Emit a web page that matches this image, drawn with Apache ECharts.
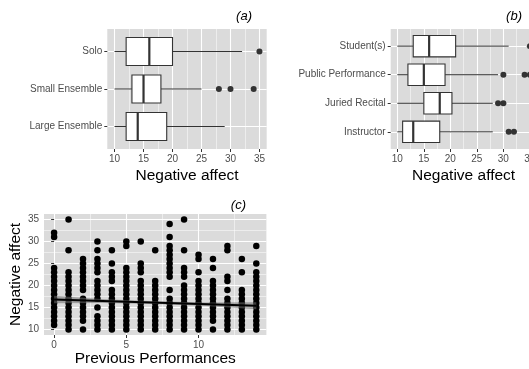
<!DOCTYPE html>
<html><head><meta charset="utf-8">
<script src="https://cdn.jsdelivr.net/npm/echarts/dist/echarts.min.js"></script>
<style>html,body{margin:0;padding:0;background:#fff}#c{width:529px;height:369px}</style>
</head><body><div id="c"></div>
<script>
// ---- panel (a)
const catsA = ['Large Ensemble', 'Small Ensemble', 'Solo'];
const lowA  = [10, 10, 10];
const q1A   = [12, 13, 12];
const medA  = [14, 15, 16];
const q3A   = [19, 18, 20];
const highA = [29, 25, 32];
const outCatA = ['Small Ensemble', 'Small Ensemble', 'Small Ensemble', 'Solo'];
const outValA = [28, 30, 34, 35];
// ---- panel (b)
const catsB = ['Instructor', 'Juried Recital', 'Public Performance', 'Student(s)'];
const lowB  = [10, 10, 10, 10];
const q1B   = [11, 15, 12, 13];
const medB  = [13, 18, 15, 16];
const q3B   = [18, 20.3, 19, 21];
const highB = [28, 28, 29, 31];
const outCatB = ['Instructor', 'Instructor', 'Juried Recital', 'Juried Recital', 'Public Performance', 'Public Performance', 'Public Performance', 'Student(s)'];
const outValB = [31, 32, 29, 30, 30, 34, 35, 35];
// ---- axis ticks
const affectTicks = [10, 15, 20, 25, 30, 35];
const affectMinor = [12.5, 17.5, 22.5, 27.5, 32.5];
const prevTicks = [0, 5, 10];
const prevMinor = [2.5, 7.5, 12.5];
// ---- panel (c) scatter: negative affect values observed at each number of previous performances
const prevPerf = [0, 1, 2, 3, 4, 5, 6, 7, 8, 9, 10, 11, 12, 13, 14];
const affectByPrev = [
  [11,12,13,14,15,16,17,18,19,20,21,22,23,24,31,32],
  [10,11,12,13,14,15,16,17,18,19,20,21,22,23,28,35],
  [10,12,13,14,15,16,17,19,20,21,22,23,24,25,26],
  [10,11,12,13,15,17,18,19,20,21,23,24,25,26,28,30],
  [10,11,12,13,14,15,16,17,18,19,21,22,23,25,28],
  [10,11,12,13,14,15,16,17,18,19,20,21,22,23,24,29,30],
  [10,11,12,13,14,15,16,17,18,19,20,21,23,24,25,30],
  [10,11,12,13,14,15,16,17,18,19,20,21,28],
  [10,11,12,13,14,15,16,17,19,22,23,24,25,26,27,28,29,31,34],
  [10,11,12,13,14,15,16,17,18,19,20,22,23,24,28,35],
  [10,11,12,13,14,15,16,17,18,19,20,21,23,26,27],
  [10,12,13,14,15,16,17,18,19,20,21,24,26],
  [10,11,12,13,14,15,16,17,19,21,22,28,29],
  [10,11,12,13,14,15,16,17,18,19,23,26],
  [10,11,12,13,14,15,16,17,18,19,20,21,22,23,25,29]
];
// ---- linear fit and its confidence band
const fitX = [0, 14];
const fitY = [16.8, 15.4];
const bandX  = [0, 3.5, 7, 10.5, 14];
const bandLo = [15.95, 16.0, 15.8, 15.35, 14.6];
const bandHi = [17.65, 16.9, 16.4, 16.15, 16.2];

const FONT = 'Liberation Sans, Arial, sans-serif';
const PANEL = '#DBDBDB';
const TICKC = '#4D4D4D';

function boxData(cats, lo, q1, md, q3, hi) {
  return cats.map((c, i) => [i + 1, lo[i], q1[i], md[i], q3[i], hi[i]]);
}
function boxRender(params, api) {
  const c = api.value(0);
  const half = api.size([0, 0.375])[1];
  const px = k => api.coord([api.value(k), c]);
  const pL = px(1), p1 = px(2), pM = px(3), p3 = px(4), pH = px(5);
  const y = pL[1];
  const st = { stroke: '#333333', lineWidth: 1, fill: null };
  return { type: 'group', children: [
    { type: 'line', shape: { x1: pL[0], y1: y, x2: p1[0], y2: y }, style: st },
    { type: 'line', shape: { x1: p3[0], y1: y, x2: pH[0], y2: y }, style: st },
    { type: 'rect', shape: { x: p1[0], y: y - half, width: p3[0] - p1[0], height: 2 * half },
      style: { fill: '#ffffff', stroke: '#333333', lineWidth: 1.1 } },
    { type: 'line', shape: { x1: pM[0], y1: y - half, x2: pM[0], y2: y + half },
      style: { stroke: '#333333', lineWidth: 2.2 } }
  ]};
}
function majorAxis(gridIndex, min, max, ticks, extra) {
  return Object.assign({
    type: 'value', gridIndex, min, max,
    axisLine: { show: false },
    axisTick: { show: true, length: 3, customValues: ticks, lineStyle: { color: '#333333', width: 1 } },
    axisLabel: { show: true, customValues: ticks, color: TICKC, fontSize: 10, fontFamily: FONT, margin: 5 },
    splitLine: { show: true, lineStyle: { color: '#ffffff', width: 1.1 } },
    nameTextStyle: { color: '#000', fontSize: 15.5, fontFamily: FONT }
  }, extra || {});
}
function minorAxis(gridIndex, min, max, ticks, extra) {
  return Object.assign({
    type: 'value', gridIndex, min, max,
    axisLine: { show: false },
    axisTick: { show: false, customValues: ticks },
    axisLabel: { show: false, customValues: ticks },
    splitLine: { show: true, lineStyle: { color: '#ffffff', width: 0.5 } }
  }, extra || {});
}

const scatterData = [];
prevPerf.forEach((x, i) => affectByPrev[i].forEach(y => scatterData.push([x, y])));

const gridBase = { show: true, backgroundColor: PANEL, borderWidth: 0, containLabel: false, outerBoundsMode: 'none' };
const chart = echarts.init(document.getElementById('c'), null, { renderer: 'canvas' });
chart.setOption({
  animation: false,
  textStyle: { fontFamily: FONT },
  grid: [
    Object.assign({ left: 107.3, top: 29, width: 159.4, height: 120 }, gridBase),
    Object.assign({ left: 390.7, top: 29, width: 145.8, height: 120 }, gridBase),
    Object.assign({ left: 44, top: 214, width: 222.4, height: 121 }, gridBase)
  ],
  xAxis: [
    majorAxis(0, 8.75, 36.25, affectTicks, { name: 'Negative affect', nameLocation: 'middle', nameGap: 19 }),
    minorAxis(0, 8.75, 36.25, affectMinor),
    majorAxis(1, 8.75, 36.25, affectTicks, { name: 'Negative affect', nameLocation: 'middle', nameGap: 19 }),
    minorAxis(1, 8.75, 36.25, affectMinor),
    majorAxis(2, -0.7, 14.7, prevTicks, { name: 'Previous Performances', nameLocation: 'middle', nameGap: 16 }),
    minorAxis(2, -0.7, 14.7, prevMinor)
  ],
  yAxis: [
    majorAxis(0, 0.4, 3.6, [1, 2, 3], { axisLabel: { show: true, customValues: [1, 2, 3], color: TICKC, fontSize: 10, fontFamily: FONT, margin: 5, formatter: v => catsA[Math.round(v) - 1] } }),
    majorAxis(1, 0.4, 4.6, [1, 2, 3, 4], { axisLabel: { show: true, customValues: [1, 2, 3, 4], color: TICKC, fontSize: 10, fontFamily: FONT, margin: 5, formatter: v => catsB[Math.round(v) - 1] } }),
    majorAxis(2, 8.75, 36.25, affectTicks, { name: 'Negative affect', nameLocation: 'middle', nameGap: 18 }),
    minorAxis(2, 8.75, 36.25, affectMinor)
  ],
  series: [
    { type: 'custom', xAxisIndex: 0, yAxisIndex: 0, dimensions: ['cat','low','q1','med','q3','high'],
      encode: { x: [1, 2, 3, 4, 5], y: 0 }, data: boxData(catsA, lowA, q1A, medA, q3A, highA), renderItem: boxRender, z: 3 },
    { type: 'scatter', xAxisIndex: 0, yAxisIndex: 0, symbolSize: 6, itemStyle: { color: '#333333', opacity: 1 },
      data: outValA.map((v, i) => [v, catsA.indexOf(outCatA[i]) + 1]), z: 4 },
    { type: 'custom', xAxisIndex: 2, yAxisIndex: 1, dimensions: ['cat','low','q1','med','q3','high'],
      encode: { x: [1, 2, 3, 4, 5], y: 0 }, data: boxData(catsB, lowB, q1B, medB, q3B, highB), renderItem: boxRender, z: 3 },
    { type: 'scatter', xAxisIndex: 2, yAxisIndex: 1, symbolSize: 6, itemStyle: { color: '#333333', opacity: 1 },
      data: outValB.map((v, i) => [v, catsB.indexOf(outCatB[i]) + 1]), z: 4 },
    { type: 'scatter', xAxisIndex: 4, yAxisIndex: 2, symbolSize: 6.5, itemStyle: { color: '#000000', opacity: 1 },
      data: scatterData, z: 3 },
    { type: 'custom', xAxisIndex: 4, yAxisIndex: 2, z: 4,
      data: bandX.map((x, i) => [x, bandLo[i], bandHi[i]]),
      encode: { x: 0, y: [1, 2] },
      renderItem: (params, api) => {
        if (params.dataIndex !== 0) return null;
        const pts = [];
        bandX.forEach((x, i) => pts.push(api.coord([x, bandHi[i]])));
        for (let i = bandX.length - 1; i >= 0; i--) pts.push(api.coord([bandX[i], bandLo[i]]));
        return { type: 'polygon', shape: { points: pts }, style: { fill: 'rgba(110,110,110,0.55)' } };
      } },
    { type: 'line', xAxisIndex: 4, yAxisIndex: 2, symbol: 'none', z: 5,
      lineStyle: { color: '#000000', width: 2 }, data: fitX.map((x, i) => [x, fitY[i]]) }
  ],
  graphic: [
    { type: 'text', right: 529 - 252, top: 10, style: { text: '(a)', fill: '#000', font: 'italic 13px ' + FONT } },
    { type: 'text', right: 529 - 522, top: 10, style: { text: '(b)', fill: '#000', font: 'italic 13px ' + FONT } },
    { type: 'text', right: 529 - 246, top: 199, style: { text: '(c)', fill: '#000', font: 'italic 13px ' + FONT } }
  ]
});
</script></body></html>
